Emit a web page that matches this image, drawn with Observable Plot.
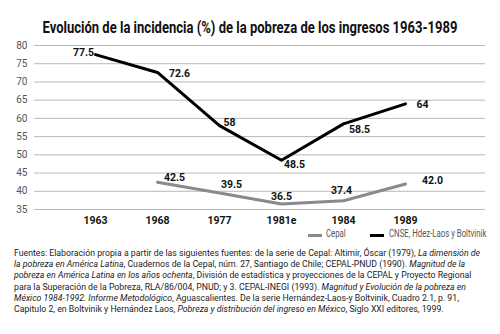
<!DOCTYPE html>
<html><head><meta charset="utf-8">
<script src="https://cdn.jsdelivr.net/npm/d3@7"></script>
<script src="https://cdn.jsdelivr.net/npm/@observablehq/plot@0.6"></script>
<style>
body{margin:0;background:#fff;width:500px;font-family:Roboto,sans-serif;overflow:hidden;}
#title{height:38px;position:relative;}
#title span{position:absolute;left:250px;top:17px;font-weight:bold;font-size:17px;color:#111;white-space:nowrap;transform-origin:0 0;}
#legend{height:14px;position:relative;font-size:10px;color:#555;white-space:nowrap;}
#legend span.sw{position:absolute;top:6px;height:3px;width:14px;}
#legend span.t{position:absolute;top:0;transform-origin:0 0;transform:scaleX(0.78);}
#note{padding:6px 0 0 14px;font-family:Roboto,sans-serif;font-size:9px;line-height:11.2px;color:#222;white-space:nowrap;}
#note div{display:inline-block;}
</style></head><body>
<div id="title"><span>Evolución de la incidencia (%) de la pobreza de los ingresos 1963-1989</span></div>
<div id="chart"></div>
<div id="legend"><span class="sw" style="left:308px;background:#8a8a8a"></span><span class="t" style="left:326px">Cepal</span><span class="sw" style="left:370px;background:#000"></span><span class="t" style="left:389px">CNSE, Hdez-Laos y Boltvinik</span></div>
<div id="note"><div>Fuentes: Elaboración propia a partir de las siguientes fuentes: de la serie de Cepal: Altimir, Óscar (1979), <i>La dimensión de</i><br><i>la pobreza en América Latina</i>, Cuadernos de la Cepal, núm. 27, Santiago de Chile; CEPAL-PNUD (1990). <i>Magnitud de la</i><br><i>pobreza en América Latina en los años ochenta</i>, División de estadística y proyecciones de la CEPAL y Proyecto Regional<br>para la Superación de la Pobreza, RLA/86/004, PNUD; y 3. CEPAL-INEGI (1993). <i>Magnitud y Evolución de la pobreza en</i><br><i>México 1984-1992. Informe Metodológico</i>, Aguascalientes. De la serie Hernández-Laos-y Boltvinik, Cuadro 2.1, p. 91,<br>Capitulo 2, en Boltvinik y Hernández Laos, <i>Pobreza y distribución del ingreso en México</i>, Siglo XXI editores, 1999.</div></div>
<script>
const years = ["1963","1968","1977","1981e","1984","1989"];
const cepalYears = ["1968","1977","1981e","1984","1989"];
const cepalValues = [42.5, 39.5, 36.5, 37.4, 42.0];
const cepalLabels = ["42.5","39.5","36.5","37.4","42.0"];
const cnseYears = ["1963","1968","1977","1981e","1984","1989"];
const cnseValues = [77.5, 72.6, 58, 48.5, 58.5, 64];
const cnseLabels = ["77.5","72.6","58","48.5","58.5","64"];
const yTicks = [35,40,45,50,55,60,65,70,75,80];

const cepal = cepalYears.map((y,i)=>({year:y, value:cepalValues[i], label:cepalLabels[i], i}));
const cnse = cnseYears.map((y,i)=>({year:y, value:cnseValues[i], label:cnseLabels[i], i}));

const lab = (data, idx, dx, dy) =>
  Plot.text(data.filter(d=>idx.includes(d.i)), {x:"year", y:"value", text:"label", dx, dy, fontWeight:"bold", fontSize:10.5, fill:"#111", letterSpacing:"-0.3px"});

const chart = Plot.plot({
  width:500, height:190,
  marginLeft:34, marginRight:15, marginTop:7, marginBottom:19,
  style:{fontFamily:"Roboto,sans-serif", background:"#fff"},
  x:{type:"point", domain:years, range:[62,438], label:null},
  y:{domain:[35,80], ticks:yTicks, label:null},
  marks:[
    Plot.ruleY(yTicks, {stroke:"#b8b8b8", strokeWidth:1}),
    Plot.axisY({ticks:yTicks, tickSize:0, tickPadding:7, fontSize:10, fill:"#555", letterSpacing:"-0.4px"}),
    Plot.axisX({tickSize:0, tickPadding:7, fontSize:10.5, fontWeight:"bold", fill:"#111", letterSpacing:"-0.3px"}),
    Plot.line(cepal, {x:"year", y:"value", stroke:"#8a8a8a", strokeWidth:3}),
    Plot.line(cnse, {x:"year", y:"value", stroke:"#000", strokeWidth:3}),
    lab(cnse, [0], -12, -2),
    lab(cnse, [1], 22, 1),
    lab(cnse, [2], 10, -3),
    lab(cnse, [3], 13, 4),
    lab(cnse, [4], 16, 6),
    lab(cnse, [5], 17, 1),
    lab(cepal, [0], 17, -5),
    lab(cepal, [1], 12, -8),
    lab(cepal, [2], 0, -7),
    lab(cepal, [3], -2, -10),
    lab(cepal, [4], 27, -3)
  ]
});
document.getElementById("chart").appendChild(chart);

// fit title to the reference's width (about 415px, centred)
const t = document.querySelector("#title span");
const tw = t.getBoundingClientRect().width;
const s = 415 / tw;
t.style.transform = `scaleX(${s}) translateX(${-tw/2}px)`;
// fit footnote lines to about 466px
const n = document.querySelector("#note div");
const nw = n.getBoundingClientRect().width;
if (nw > 466) { n.style.transformOrigin = "0 0"; n.style.transform = `scaleX(${466/nw})`; }
</script>
</body></html>
